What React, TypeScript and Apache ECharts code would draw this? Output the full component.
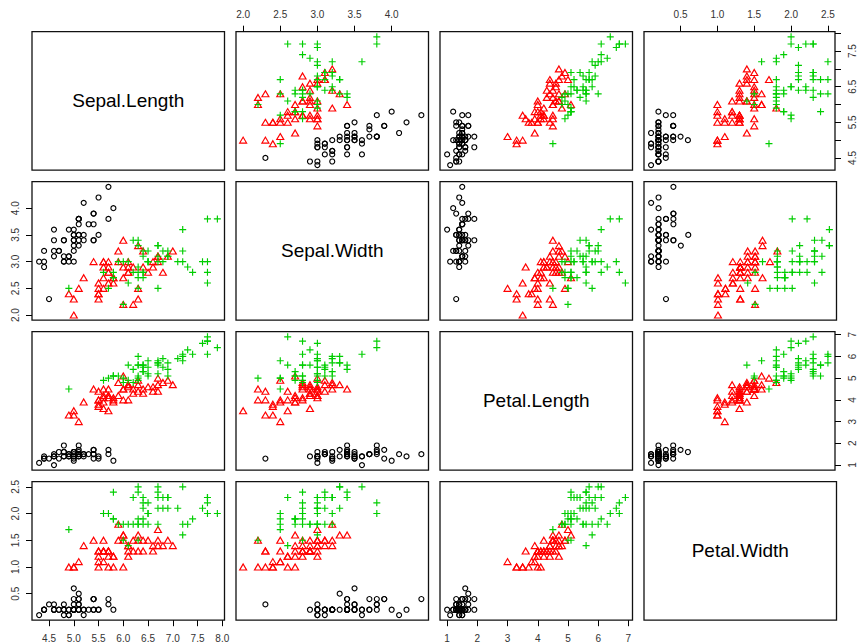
import React, { useEffect, useRef } from 'react';
import * as echarts from 'echarts';

// Variables in the order of the scatterplot matrix
const varNames = ['Sepal.Length', 'Sepal.Width', 'Petal.Length', 'Petal.Width'];
const speciesNames = ['setosa', 'versicolor', 'virginica'];

// setosa
const setosaSepalLength = [5.1, 4.9, 4.7, 4.6, 5.0, 5.4, 4.6, 5.0, 4.4, 4.9, 5.4, 4.8, 4.8, 4.3, 5.8, 5.7, 5.4, 5.1, 5.7, 5.1, 5.4, 5.1, 4.6, 5.1, 4.8, 5.0, 5.0, 5.2, 5.2, 4.7, 4.8, 5.4, 5.2, 5.5, 4.9, 5.0, 5.5, 4.9, 4.4, 5.1, 5.0, 4.5, 4.4, 5.0, 5.1, 4.8, 5.1, 4.6, 5.3, 5.0];
const setosaSepalWidth = [3.5, 3.0, 3.2, 3.1, 3.6, 3.9, 3.4, 3.4, 2.9, 3.1, 3.7, 3.4, 3.0, 3.0, 4.0, 4.4, 3.9, 3.5, 3.8, 3.8, 3.4, 3.7, 3.6, 3.3, 3.4, 3.0, 3.4, 3.5, 3.4, 3.2, 3.1, 3.4, 4.1, 4.2, 3.1, 3.2, 3.5, 3.6, 3.0, 3.4, 3.5, 2.3, 3.2, 3.5, 3.8, 3.0, 3.8, 3.2, 3.7, 3.3];
const setosaPetalLength = [1.4, 1.4, 1.3, 1.5, 1.4, 1.7, 1.4, 1.5, 1.4, 1.5, 1.5, 1.6, 1.4, 1.1, 1.2, 1.5, 1.3, 1.4, 1.7, 1.5, 1.7, 1.5, 1.0, 1.7, 1.9, 1.6, 1.6, 1.5, 1.4, 1.6, 1.6, 1.5, 1.5, 1.4, 1.5, 1.2, 1.3, 1.4, 1.3, 1.5, 1.3, 1.3, 1.3, 1.6, 1.9, 1.4, 1.6, 1.4, 1.5, 1.4];
const setosaPetalWidth = [0.2, 0.2, 0.2, 0.2, 0.2, 0.4, 0.3, 0.2, 0.2, 0.1, 0.2, 0.2, 0.1, 0.1, 0.2, 0.4, 0.4, 0.3, 0.3, 0.3, 0.2, 0.4, 0.2, 0.5, 0.2, 0.2, 0.4, 0.2, 0.2, 0.2, 0.2, 0.4, 0.1, 0.2, 0.2, 0.2, 0.2, 0.1, 0.2, 0.2, 0.3, 0.3, 0.2, 0.6, 0.4, 0.3, 0.2, 0.2, 0.2, 0.2];

// versicolor
const versicolorSepalLength = [7.0, 6.4, 6.9, 5.5, 6.5, 5.7, 6.3, 4.9, 6.6, 5.2, 5.0, 5.9, 6.0, 6.1, 5.6, 6.7, 5.6, 5.8, 6.2, 5.6, 5.9, 6.1, 6.3, 6.1, 6.4, 6.6, 6.8, 6.7, 6.0, 5.7, 5.5, 5.5, 5.8, 6.0, 5.4, 6.0, 6.7, 6.3, 5.6, 5.5, 5.5, 6.1, 5.8, 5.0, 5.6, 5.7, 5.7, 6.2, 5.1, 5.7];
const versicolorSepalWidth = [3.2, 3.2, 3.1, 2.3, 2.8, 2.8, 3.3, 2.4, 2.9, 2.7, 2.0, 3.0, 2.2, 2.9, 2.9, 3.1, 3.0, 2.7, 2.2, 2.5, 3.2, 2.8, 2.5, 2.8, 2.9, 3.0, 2.8, 3.0, 2.9, 2.6, 2.4, 2.4, 2.7, 2.7, 3.0, 3.4, 3.1, 2.3, 3.0, 2.5, 2.6, 3.0, 2.6, 2.3, 2.7, 3.0, 2.9, 2.9, 2.5, 2.8];
const versicolorPetalLength = [4.7, 4.5, 4.9, 4.0, 4.6, 4.5, 4.7, 3.3, 4.6, 3.9, 3.5, 4.2, 4.0, 4.7, 3.6, 4.4, 4.5, 4.1, 4.5, 3.9, 4.8, 4.0, 4.9, 4.7, 4.3, 4.4, 4.8, 5.0, 4.5, 3.5, 3.8, 3.7, 3.9, 5.1, 4.5, 4.5, 4.7, 4.4, 4.1, 4.0, 4.4, 4.6, 4.0, 3.3, 4.2, 4.2, 4.2, 4.3, 3.0, 4.1];
const versicolorPetalWidth = [1.4, 1.5, 1.5, 1.3, 1.5, 1.3, 1.6, 1.0, 1.3, 1.4, 1.0, 1.5, 1.0, 1.4, 1.3, 1.4, 1.5, 1.0, 1.5, 1.1, 1.8, 1.3, 1.5, 1.2, 1.3, 1.4, 1.4, 1.7, 1.5, 1.0, 1.1, 1.0, 1.2, 1.6, 1.5, 1.6, 1.5, 1.3, 1.3, 1.3, 1.2, 1.4, 1.2, 1.0, 1.3, 1.2, 1.3, 1.3, 1.1, 1.3];

// virginica
const virginicaSepalLength = [6.3, 5.8, 7.1, 6.3, 6.5, 7.6, 4.9, 7.3, 6.7, 7.2, 6.5, 6.4, 6.8, 5.7, 5.8, 6.4, 6.5, 7.7, 7.7, 6.0, 6.9, 5.6, 7.7, 6.3, 6.7, 7.2, 6.2, 6.1, 6.4, 7.2, 7.4, 7.9, 6.4, 6.3, 6.1, 7.7, 6.3, 6.4, 6.0, 6.9, 6.7, 6.9, 5.8, 6.8, 6.7, 6.7, 6.3, 6.5, 6.2, 5.9];
const virginicaSepalWidth = [3.3, 2.7, 3.0, 2.9, 3.0, 3.0, 2.5, 2.9, 2.5, 3.6, 3.2, 2.7, 3.0, 2.5, 2.8, 3.2, 3.0, 3.8, 2.6, 2.2, 3.2, 2.8, 2.8, 2.7, 3.3, 3.2, 2.8, 3.0, 2.8, 3.0, 2.8, 3.8, 2.8, 2.8, 2.6, 3.0, 3.4, 3.1, 3.0, 3.1, 3.1, 3.1, 2.7, 3.2, 3.3, 3.0, 2.5, 3.0, 3.4, 3.0];
const virginicaPetalLength = [6.0, 5.1, 5.9, 5.6, 5.8, 6.6, 4.5, 6.3, 5.8, 6.1, 5.1, 5.3, 5.5, 5.0, 5.1, 5.3, 5.5, 6.7, 6.9, 5.0, 5.7, 4.9, 6.7, 4.9, 5.7, 6.0, 4.8, 4.9, 5.6, 5.8, 6.1, 6.4, 5.6, 5.1, 5.6, 6.1, 5.6, 5.5, 4.8, 5.4, 5.6, 5.1, 5.1, 5.9, 5.7, 5.2, 5.0, 5.2, 5.4, 5.1];
const virginicaPetalWidth = [2.5, 1.9, 2.1, 1.8, 2.2, 2.1, 1.7, 1.8, 1.8, 2.5, 2.0, 1.9, 2.1, 2.0, 2.4, 2.3, 1.8, 2.2, 2.3, 1.5, 2.3, 2.0, 2.0, 1.8, 2.1, 1.8, 1.8, 1.8, 2.1, 1.6, 1.9, 2.0, 2.2, 1.5, 1.4, 2.3, 2.4, 1.8, 1.8, 2.1, 2.4, 2.3, 1.9, 2.3, 2.5, 2.3, 1.9, 2.0, 2.3, 1.8];

// Tick marks and tick labels per variable
const sepalLengthTicks = [4.5, 5.0, 5.5, 6.0, 6.5, 7.0, 7.5, 8.0];
const sepalLengthRightLabels = [4.5, 5.5, 6.5, 7.5];
const sepalWidthTicks = [2.0, 2.5, 3.0, 3.5, 4.0];
const petalLengthTicks = [1, 2, 3, 4, 5, 6, 7];
const petalWidthTicks = [0.5, 1.0, 1.5, 2.0, 2.5];

const columns: number[][][] = [
  [setosaSepalLength, versicolorSepalLength, virginicaSepalLength],
  [setosaSepalWidth, versicolorSepalWidth, virginicaSepalWidth],
  [setosaPetalLength, versicolorPetalLength, virginicaPetalLength],
  [setosaPetalWidth, versicolorPetalWidth, virginicaPetalWidth],
];

const ticks = [sepalLengthTicks, sepalWidthTicks, petalLengthTicks, petalWidthTicks];
const decimals = [1, 1, 0, 1];

const FONT = "'Liberation Sans', Arial, Helvetica, sans-serif";
const COLORS = ['#000000', '#ff0000', '#00cd00'];

// R-style range: data range padded by 4% on each side
function paddedRange(v: number) {
  const all = columns[v].flat();
  const lo = Math.min(...all);
  const hi = Math.max(...all);
  const pad = (hi - lo) * 0.04;
  return [lo - pad, hi + pad];
}

// panel layout
const LEFT = 32;
const TOP = 31.7;
const PW = 192.5;
const PH = 138.5;
const STEP_X = 204;
const STEP_Y = 150;

const symbolFor = (s: number) => {
  if (s === 0) return { symbol: 'circle', symbolSize: 5 };
  if (s === 1) return { symbol: 'triangle', symbolSize: [7, 6] };
  return { symbol: 'path://M0,5L10,5M5,0L5,10', symbolSize: 7 };
};

function buildOption(): echarts.EChartsCoreOption {
  const grid: any[] = [];
  const xAxis: any[] = [];
  const yAxis: any[] = [];
  const series: any[] = [];
  const graphic: any[] = [];

  const hiddenAxis = {
    axisLine: { show: false },
    axisTick: { show: false },
    axisLabel: { show: false },
    splitLine: { show: false },
  };

  const labelledAxis = (v: number, position: string, labels: number[], rotate: number, margin: number) => ({
    position,
    axisLine: { show: false },
    axisTick: { show: true, inside: false, length: 6, customValues: ticks[v], lineStyle: { color: '#000', width: 1 } },
    axisLabel: {
      show: true,
      customValues: labels,
      rotate,
      margin,
      fontSize: 10,
      fontFamily: FONT,
      color: '#333',
      formatter: (val: number) => val.toFixed(decimals[v]),
    },
    splitLine: { show: false },
  });

  let idx = 0;
  for (let r = 0; r < 4; r++) {
    for (let c = 0; c < 4; c++) {
      const left = LEFT + c * STEP_X;
      const top = TOP + r * STEP_Y;
      grid.push({
        left,
        top,
        width: PW,
        height: PH,
        show: true,
        borderColor: '#111',
        borderWidth: 1.3,
        backgroundColor: 'transparent',
      });
      const [xmin, xmax] = paddedRange(c);
      const [ymin, ymax] = paddedRange(r);

      let xExtra: any = hiddenAxis;
      if (r === 0 && (c === 1 || c === 3)) xExtra = labelledAxis(c, 'top', ticks[c], 0, 12);
      if (r === 3 && (c === 0 || c === 2)) xExtra = labelledAxis(c, 'bottom', ticks[c], 0, 13);
      let yExtra: any = hiddenAxis;
      if (c === 0 && (r === 1 || r === 3)) yExtra = labelledAxis(r, 'left', ticks[r], 90, 12);
      if (c === 3 && (r === 0 || r === 2)) {
        yExtra = labelledAxis(r, 'right', r === 0 ? sepalLengthRightLabels : ticks[r], 90, 12);
      }

      xAxis.push({ type: 'value', gridIndex: idx, min: xmin, max: xmax, ...xExtra });
      yAxis.push({ type: 'value', gridIndex: idx, min: ymin, max: ymax, ...yExtra });

      if (r === c) {
        graphic.push({
          type: 'text',
          x: left + PW / 2,
          y: top + PH / 2,
          style: {
            text: varNames[r],
            fontSize: 19,
            fontFamily: FONT,
            fill: '#000',
            align: 'center',
            verticalAlign: 'middle',
          },
        });
      } else {
        for (let s = 0; s < 3; s++) {
          const xs = columns[c][s];
          const ys = columns[r][s];
          series.push({
            type: 'scatter',
            name: speciesNames[s],
            xAxisIndex: idx,
            yAxisIndex: idx,
            ...symbolFor(s),
            itemStyle: { color: 'transparent', borderColor: COLORS[s], borderWidth: 1.15, opacity: 1 },
            emphasis: { disabled: true },
            data: xs.map((x, i) => [x, ys[i]]),
          });
        }
      }
      idx++;
    }
  }

  return {
    animation: false,
    backgroundColor: '#fff',
    grid,
    xAxis,
    yAxis,
    series,
    graphic,
  };
}

export default function App() {
  const ref = useRef<HTMLDivElement>(null);

  useEffect(() => {
    if (!ref.current) return;
    const chart = echarts.init(ref.current, undefined, { renderer: 'svg' });
    chart.setOption(buildOption());
    return () => chart.dispose();
  }, []);

  return <div ref={ref} style={{ position: 'fixed', left: 0, top: 0, width: 857, height: 644 }} />;
}
